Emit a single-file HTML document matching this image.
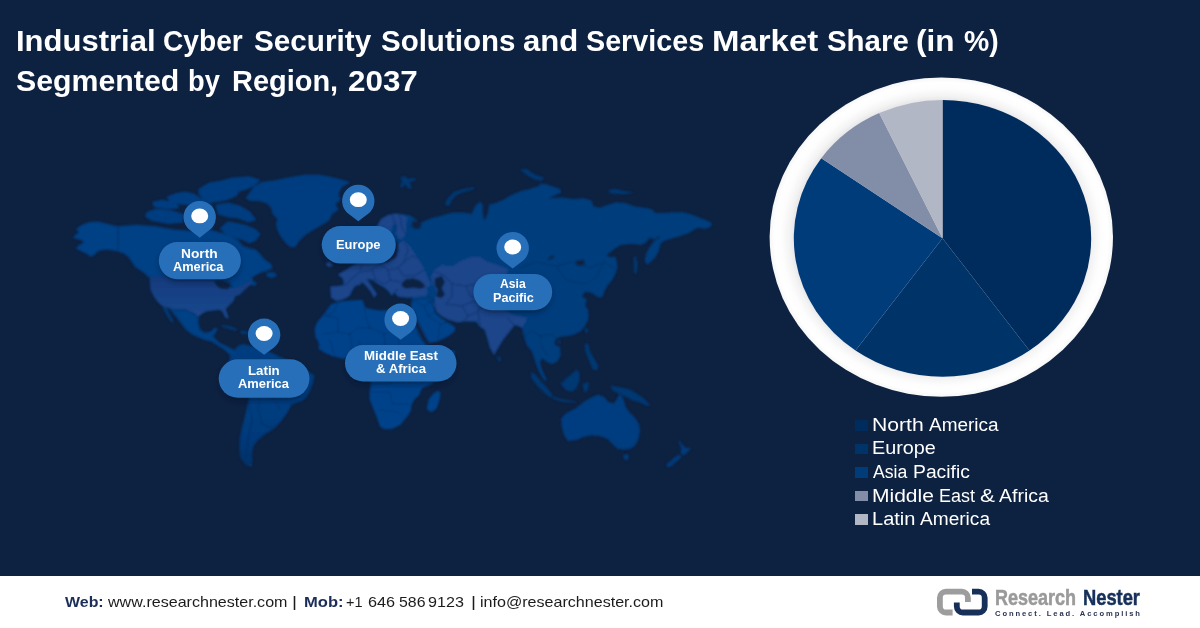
<!DOCTYPE html>
<html lang="en"><head><meta charset="utf-8"><title>Industrial Cyber Security Solutions and Services Market Share</title>
<style>
html,body{margin:0;padding:0;}
body{width:1200px;height:628px;overflow:hidden;background:#0d2140;font-family:"Liberation Sans",sans-serif;position:relative;}
#stage{position:absolute;left:0;top:0;width:1200px;height:628px;overflow:hidden;background:#0d2140;}
h1{position:absolute;left:0;top:0;margin:0;width:1200px;height:110px;font:bold 28.6px "Liberation Sans",sans-serif;color:#fff;white-space:nowrap;}
.tw{position:absolute;display:inline-block;transform-origin:0 50%;line-height:normal;white-space:nowrap;}
svg#art{position:absolute;left:0;top:0;}
.lbl{font:bold 12.3px "Liberation Sans",sans-serif;fill:#fff;text-anchor:middle;letter-spacing:0.2px;}
.sw{position:absolute;left:854.9px;width:13.1px;height:10.6px;}
.lgrow{position:absolute;left:0;top:0;font:17.6px "Liberation Sans",sans-serif;color:#fff;}
.pw{font:bold 12.3px "Liberation Sans",sans-serif;color:#fff;}
.lw,.fw,.fb,.pw{position:absolute;display:inline-block;transform-origin:0 50%;line-height:normal;white-space:nowrap;}
#footer{position:absolute;left:0;top:575.8px;width:1200px;height:52.2px;background:#fff;}
#contact{position:absolute;left:0;top:0;font:15px "Liberation Sans",sans-serif;color:#1c1c1c;}
.fb{font-weight:bold;color:#1b2e58;}
#logo{position:absolute;left:937px;top:12.7px;width:210px;height:32px;}
</style></head>
<body><div id="stage">
<svg id="art" width="1200" height="628" viewBox="0 0 1200 628">
<defs>
<filter id="blur3" x="-20%" y="-40%" width="140%" height="200%"><feGaussianBlur stdDeviation="2.5"/></filter>
<filter id="blur6" x="-20%" y="-20%" width="140%" height="140%"><feGaussianBlur stdDeviation="4"/></filter>
<radialGradient id="ring" cx="0.5" cy="0.5" r="0.5"><stop offset="0.85" stop-color="#e4e4e6"/><stop offset="0.885" stop-color="#f3f3f4"/><stop offset="0.93" stop-color="#fdfdfd"/><stop offset="0.97" stop-color="#ffffff"/><stop offset="1" stop-color="#f6f6f7"/></radialGradient>
</defs>
<defs><linearGradient id="fadeg" gradientUnits="userSpaceOnUse" x1="0" y1="440" x2="0" y2="480"><stop offset="0" stop-color="#fff" stop-opacity="1"/><stop offset="1" stop-color="#fff" stop-opacity="0.82"/></linearGradient><linearGradient id="sag" gradientUnits="userSpaceOnUse" x1="0" y1="405" x2="0" y2="468"><stop offset="0" stop-color="#023e80"/><stop offset="0.5" stop-color="#04397a"/><stop offset="1" stop-color="#07346c"/></linearGradient><mask id="fade" maskUnits="userSpaceOnUse" x="0" y="0" width="1200" height="628"><rect x="0" y="0" width="1200" height="628" fill="url(#fadeg)"/></mask><linearGradient id="usag" gradientUnits="userSpaceOnUse" x1="0" y1="276" x2="0" y2="318"><stop offset="0" stop-color="#12397a"/><stop offset="0.4" stop-color="#174184"/><stop offset="1" stop-color="#1b478d"/></linearGradient><filter id="soft" x="-5%" y="-5%" width="110%" height="110%"><feGaussianBlur stdDeviation="1.25"/></filter></defs>
<g mask="url(#fade)"><g filter="url(#soft)">
<path d="M163.4,307.3 L165.8,308.1 L169.8,315.3 L173.0,321.7 L171.4,321.7 L167.4,315.3 L164.2,309.7Z M267.0,273.0 L274.0,272.5 L277.0,275.5 L272.0,277.5 L267.0,276.5Z M199.0,189.0 L209.0,183.0 L221.0,181.0 L232.0,178.0 L249.0,176.7 L260.0,180.0 L254.6,185.6 L246.8,189.0 L239.0,191.2 L236.8,195.6 L229.0,199.0 L221.0,201.0 L210.0,202.5 L203.0,199.0 L199.0,194.0Z M167.0,197.0 L176.0,193.5 L185.0,192.0 L194.0,194.0 L200.0,198.0 L207.0,202.0 L213.0,206.0 L210.0,210.0 L200.0,208.0 L190.0,205.0 L180.0,204.0 L170.0,202.0Z M152.3,202.3 L162.3,200.1 L176.8,203.4 L179.0,207.9 L167.9,209.0 L154.5,206.8Z M146.7,212.4 L156.7,209.0 L173.4,211.2 L183.5,214.6 L182.4,222.4 L167.9,223.5 L151.1,220.2 L145.6,216.8Z M216.0,205.0 L228.0,203.0 L240.0,206.0 L250.0,212.0 L256.0,220.0 L248.0,222.0 L238.0,218.0 L228.0,217.0 L218.0,214.0Z M227.9,221.7 L244.6,225.0 L255.7,229.5 L260.2,234.0 L255.7,240.6 L249.0,242.9 L242.4,239.5 L233.4,237.3 L225.6,234.0 L220.0,228.4Z M186.0,217.0 L196.0,215.0 L206.0,217.0 L214.0,221.0 L212.0,227.0 L200.0,227.0 L188.0,225.0Z M222.0,236.0 L230.0,238.0 L236.0,243.0 L230.0,245.0 L223.0,242.0Z M245.9,198.2 L253.9,187.1 L261.9,182.3 L274.6,180.7 L290.5,177.5 L304.9,175.1 L319.2,175.1 L331.9,177.5 L344.7,180.7 L349.4,182.3 L341.5,187.1 L338.3,193.4 L339.9,199.8 L335.1,204.6 L338.3,209.4 L331.9,214.1 L328.7,220.5 L320.8,225.3 L312.8,230.1 L304.9,234.9 L298.5,241.2 L295.3,246.8 L290.5,246.8 L285.7,242.8 L281.0,236.4 L277.8,230.1 L276.2,223.7 L277.8,218.9 L273.0,214.1 L271.4,207.8 L266.6,203.0 L258.7,200.6 L250.7,200.6Z M561.6,418.2 L566.4,413.4 L575.9,408.7 L583.9,402.3 L591.9,397.5 L598.2,395.1 L604.6,397.5 L607.8,402.3 L614.1,403.9 L617.3,399.1 L619.7,394.3 L622.9,399.1 L625.3,407.1 L630.1,413.4 L634.9,418.2 L638.8,424.6 L639.6,431.0 L638.0,438.9 L634.9,445.3 L630.1,448.5 L623.7,449.3 L617.3,448.5 L612.6,443.7 L607.8,438.9 L604.6,437.3 L599.8,435.7 L591.9,434.9 L583.9,436.5 L575.9,439.7 L568.0,440.5 L564.8,435.7 L562.4,427.8Z M623.7,454.9 L628.5,454.9 L627.7,459.6 L624.5,459.6Z M678.6,440.5 L681.0,443.7 L685.8,448.5 L690.6,448.5 L687.4,451.7 L684.2,454.9 L681.0,453.3 L681.8,448.5Z M679.4,454.9 L681.0,457.2 L676.3,461.2 L671.5,466.0 L667.5,466.8 L666.7,464.4 L671.5,460.4 L676.3,456.4Z" fill="#023e80" stroke="#023e80" stroke-width="0.8" stroke-linejoin="round"/>
<path d="M317.4,321.8 L324.1,314.1 L330.8,304.6 L338.5,301.7 L348.0,300.7 L362.4,299.8 L364.3,304.6 L366.5,308.0 L372.0,309.2 L380.0,310.5 L388.0,310.0 L394.0,309.5 L400.0,310.0 L411.5,310.5 L413.4,322.0 L418.0,332.0 L423.0,341.0 L430.0,350.0 L440.0,353.0 L449.0,351.5 L455.0,350.5 L454.0,357.0 L449.0,366.0 L442.0,376.0 L432.0,384.0 L423.0,388.0 L421.2,389.6 L419.3,395.3 L414.5,399.1 L411.6,404.9 L410.7,411.5 L405.9,418.2 L400.2,424.9 L392.5,428.8 L384.9,429.2 L380.1,426.8 L377.2,418.2 L373.4,408.7 L369.6,399.1 L369.6,392.4 L371.0,384.0 L368.0,374.0 L364.0,364.0 L358.0,361.0 L352.0,360.0 L344.6,359.1 L331.9,355.9 L324.1,352.4 L318.4,348.5 L319.3,343.8 L315.5,337.1 L314.6,328.5Z" fill="#03428a"/>
<path d="M411.2,302.3 L416.8,300.1 L426.8,300.1 L432.4,304.5 L435.7,313.4 L442.4,319.0 L451.3,324.6 L455.8,327.9 L453.6,332.4 L446.9,336.9 L438.0,341.3 L426.8,343.5 L424.6,340.2 L419.0,330.2 L414.6,324.6 L413.4,319.0 L411.2,311.2Z" fill="#03428a"/>
<path d="M426.9,407.7 L428.8,399.1 L433.6,393.4 L438.4,390.5 L440.5,393.0 L439.5,400.0 L436.5,408.7 L431.7,412.0 L427.9,410.6Z" fill="#03428a"/>
<path d="M75.9,229.5 L80.7,225.5 L88.7,222.3 L98.2,221.5 L107.8,223.9 L117.3,226.3 L126.9,225.5 L136.4,224.7 L146.0,225.5 L155.6,226.3 L165.1,227.9 L174.7,229.5 L184.2,230.3 L192.0,231.0 L200.0,230.0 L208.0,229.0 L215.0,231.0 L222.0,233.0 L230.0,236.0 L238.0,240.0 L243.0,246.0 L249.0,248.0 L255.7,249.6 L260.2,254.0 L264.7,259.6 L271.3,264.0 L272.5,268.5 L266.9,270.7 L260.2,273.0 L255.7,275.2 L252.0,278.0 L253.0,281.0 L257.0,283.0 L255.0,286.0 L251.0,285.0 L251.0,284.2 L244.7,289.8 L239.9,294.6 L235.1,296.2 L233.5,301.0 L228.7,305.7 L225.6,308.9 L227.1,313.7 L228.7,318.5 L225.6,317.7 L222.4,311.3 L219.2,309.7 L212.8,310.5 L206.4,311.3 L201.7,313.7 L198.5,316.9 L198.5,323.3 L200.1,329.6 L204.9,332.8 L211.2,331.2 L214.4,328.0 L217.6,328.0 L216.0,332.8 L212.8,336.0 L216.0,339.2 L219.2,342.4 L225.6,345.6 L231.9,348.7 L236.0,351.0 L234.0,354.0 L231.0,356.0 L228.0,353.0 L224.0,349.5 L217.6,345.6 L211.2,341.6 L204.9,340.0 L198.5,337.6 L192.1,334.4 L185.7,329.6 L181.0,323.3 L176.2,316.9 L169.8,308.9 L161.9,305.7 L157.1,301.0 L153.9,296.2 L150.7,289.8 L149.9,281.9 L149.9,277.1 L149.2,278.0 L144.4,273.3 L139.6,270.1 L134.9,266.9 L132.5,262.9 L128.5,257.3 L123.7,253.4 L115.7,251.0 L107.8,249.7 L101.4,250.2 L97.4,251.8 L93.4,255.7 L89.5,256.5 L87.1,254.1 L80.7,251.0 L75.9,248.6 L77.5,246.2 L83.9,242.2 L80.7,239.8 L73.5,238.2 L74.3,235.8 L79.1,232.6Z" fill="#024084"/>
<path d="M377.0,226.0 L381.0,219.0 L388.0,215.0 L395.0,213.5 L400.0,214.1 L409.6,214.9 L417.5,220.5 L409.6,226.9 L422.3,222.1 L431.9,218.1 L441.4,215.7 L452.6,212.6 L463.7,212.6 L471.7,214.1 L474.9,206.2 L479.6,201.4 L482.8,204.6 L482.8,212.6 L484.4,220.5 L487.6,214.1 L489.2,204.6 L495.6,203.0 L503.5,199.8 L511.5,195.0 L521.0,191.1 L530.6,188.7 L540.0,185.5 L539.1,183.9 L545.5,183.9 L551.9,186.3 L559.8,188.7 L561.4,192.6 L548.7,198.2 L561.4,197.4 L574.1,199.0 L583.7,198.2 L591.7,200.6 L593.3,206.2 L599.6,207.8 L609.2,204.6 L615.6,202.2 L625.1,203.0 L634.7,206.2 L644.2,207.8 L651.0,209.1 L655.7,213.1 L663.7,213.1 L671.7,212.3 L682.8,212.3 L692.4,214.7 L700.3,217.9 L708.3,221.1 L712.3,223.4 L709.9,227.4 L703.5,229.0 L698.7,227.4 L694.0,229.8 L689.2,233.0 L679.6,236.2 L671.7,238.6 L663.7,241.0 L660.5,244.1 L658.9,250.5 L655.7,256.9 L651.0,261.7 L647.0,264.9 L644.6,260.1 L646.2,253.7 L649.4,247.3 L654.1,241.0 L658.9,237.8 L660.5,235.4 L654.1,239.4 L649.4,237.8 L646.2,242.6 L641.4,244.9 L631.9,244.1 L620.7,244.9 L614.3,248.9 L606.4,255.3 L609.6,256.9 L615.9,256.9 L617.5,266.4 L615.9,272.8 L612.7,279.2 L608.0,285.6 L614.0,259.6 L617.1,269.1 L612.4,277.1 L607.6,285.0 L604.4,291.7 L602.8,296.2 L599.6,297.8 L596.4,296.2 L591.7,293.0 L585.3,291.4 L582.1,296.2 L586.9,299.4 L585.3,305.7 L587.8,309.1 L588.8,314.9 L587.8,320.6 L584.9,326.3 L581.1,331.1 L575.4,334.0 L568.7,335.9 L561.0,336.8 L556.3,338.8 L554.3,342.6 L555.3,345.0 L560.0,347.0 L560.7,355.0 L557.3,361.7 L552.0,364.3 L546.7,361.7 L542.0,358.3 L540.0,362.0 L541.5,368.0 L544.0,374.0 L546.5,379.0 L545.0,381.5 L542.0,377.0 L538.5,370.0 L536.0,364.0 L535.3,361.7 L532.0,351.7 L526.7,345.0 L524.0,337.0 L522.0,328.0 L519.4,326.4 L514.7,324.9 L509.9,331.2 L503.5,339.2 L498.7,347.1 L494.0,355.0 L490.0,348.0 L487.6,339.2 L484.4,329.6 L479.6,326.4 L476.4,321.7 L470.0,321.5 L464.7,321.2 L458.0,322.4 L449.1,320.1 L442.4,316.8 L436.9,312.3 L433.0,305.0 L425.0,300.0 L416.0,301.0 L411.5,304.0 L412.0,297.5 L407.9,297.8 L397.8,296.7 L394.5,292.3 L398.0,289.5 L396.0,290.0 L392.0,296.0 L389.0,292.0 L385.0,288.0 L378.0,284.0 L372.0,280.0 L367.0,279.0 L372.0,286.6 L377.0,294.0 L374.0,298.0 L371.0,292.0 L366.0,286.0 L362.0,282.0 L360.0,285.0 L355.7,285.7 L352.6,289.8 L349.4,296.2 L343.0,299.4 L336.6,301.0 L331.1,297.8 L330.3,286.6 L338.0,286.0 L344.0,285.0 L343.0,279.0 L337.9,274.6 L344.0,271.0 L349.0,267.9 L353.0,265.0 L358.0,263.0 L365.0,262.0 L372.0,262.0 L380.0,263.0 L388.0,262.0 L395.0,258.0 L397.0,250.0 L398.0,244.0 L393.0,240.0 L391.0,236.0 L388.0,242.0 L384.0,244.0 L381.0,240.0 L378.0,234.0Z" fill="#013d7d"/>
<path d="M234.6,350.3 L238.0,346.0 L242.6,343.9 L248.9,345.5 L256.0,347.0 L264.0,350.0 L272.0,353.0 L279.2,356.6 L291.9,361.4 L300.0,366.0 L307.9,371.0 L314.2,375.7 L313.0,383.0 L310.0,391.0 L306.2,397.4 L301.5,401.0 L291.9,404.6 L287.1,412.9 L281.2,421.3 L272.8,429.6 L264.4,434.4 L257.5,440.4 L253.5,446.4 L252.0,452.3 L252.5,459.5 L252.0,464.3 L252.5,466.7 L246.5,465.5 L240.5,458.3 L239.3,448.0 L239.8,437.4 L241.7,428.5 L244.1,419.5 L246.5,409.3 L248.9,398.6 L244.0,390.0 L238.0,381.0 L232.0,372.0 L228.0,364.0 L230.0,357.0Z" fill="url(#sag)"/>
<path d="M530.3,372.6 L535.0,374.1 L541.4,382.1 L547.8,388.5 L552.6,394.9 L551.0,398.0 L544.6,393.3 L538.2,386.9 L531.9,378.9Z" fill="#053872"/>
<path d="M552.6,396.4 L563.7,399.6 L574.9,401.2 L576.4,402.8 L563.7,402.0 L552.6,398.8Z" fill="#053872"/>
<path d="M560.5,383.7 L565.3,378.9 L571.7,374.1 L576.4,369.4 L579.6,372.6 L579.6,380.5 L576.4,388.5 L571.7,391.7 L565.3,390.1Z" fill="#053872"/>
<path d="M584.5,344.0 L588.5,344.0 L589.5,350.0 L592.0,355.0 L595.0,360.0 L598.0,365.0 L597.5,370.0 L593.0,370.0 L590.5,364.0 L588.0,358.0 L585.5,352.0Z" fill="#053872"/>
<path d="M582.8,383.7 L589.2,382.1 L587.6,390.1 L584.4,393.3Z" fill="#053872"/>
<path d="M610.0,386.0 L616.0,386.5 L623.7,388.0 L630.1,389.6 L638.0,394.3 L644.4,399.1 L650.8,405.5 L646.0,405.5 L639.6,402.3 L633.3,400.7 L626.9,397.5 L620.0,394.0 L613.0,391.0Z" fill="#053872"/>
<path d="M585.0,328.0 L588.0,328.5 L588.0,333.0 L585.5,333.0Z" fill="#053872"/>
<path d="M557.5,340.5 L560.5,340.5 L560.5,343.5 L557.5,343.5Z" fill="#053872"/>
<path d="M497.5,356.0 L500.5,357.0 L500.5,361.5 L498.0,361.0Z" fill="#053872"/>
<path d="M222.0,325.0 L230.0,326.0 L237.0,329.0 L236.0,331.0 L229.0,329.0 L222.0,327.0Z" fill="#053872"/>
<path d="M240.0,331.0 L247.0,331.0 L248.0,334.0 L241.0,334.0Z" fill="#053872"/>
<path d="M400.0,177.5 L404.8,175.9 L408.0,179.1 L415.1,177.8 L415.9,179.9 L409.6,182.3 L411.9,187.9 L408.0,188.7 L405.6,183.9 L401.6,187.9 L400.0,185.5 L402.4,181.5Z" fill="#053872"/>
<path d="M444.6,204.6 L447.8,198.2 L454.1,191.9 L463.7,188.7 L474.9,187.1 L473.3,189.5 L463.7,191.9 L455.7,195.8 L451.0,201.4 L449.4,206.2Z" fill="#053872"/>
<path d="M520.0,169.6 L526.4,168.8 L534.3,174.3 L543.9,177.5 L542.3,180.7 L535.9,179.9 L528.0,175.9Z" fill="#053872"/>
<path d="M607.6,190.3 L615.6,188.7 L623.5,191.1 L634.7,192.6 L623.5,194.2 L610.8,193.4Z" fill="#053872"/>
<path d="M633.8,256.9 L636.0,256.1 L637.7,264.9 L636.2,274.4 L634.1,272.8Z" fill="#053872"/>
<path d="M149.9,276.8 L180.0,277.2 L212.8,277.9 L216.0,281.9 L219.2,288.2 L227.1,289.0 L235.1,288.2 L241.5,285.8 L247.9,281.9 L252.6,278.7 L251.0,284.2 L244.7,289.8 L239.9,294.6 L235.1,296.2 L233.5,301.0 L228.7,305.7 L225.6,308.9 L227.1,313.7 L228.7,318.5 L225.6,317.7 L222.4,311.3 L219.2,309.7 L212.8,310.5 L206.4,311.3 L201.7,313.7 L198.5,316.9 L193.7,312.9 L188.9,311.3 L184.1,308.9 L177.8,309.7 L169.8,308.9 L161.9,305.7 L157.1,301.0 L153.9,296.2 L150.7,289.8 L149.9,281.9Z" fill="url(#usag)"/>
<path d="M377.0,226.0 L381.0,219.0 L388.0,215.0 L395.0,213.5 L402.0,214.5 L407.0,217.0 L406.5,225.0 L406.0,232.0 L404.0,238.0 L399.0,239.0 L396.0,234.0 L397.0,226.0 L394.0,223.0 L392.0,228.0 L391.0,236.0 L388.0,242.0 L384.0,244.0 L381.0,240.0 L378.0,234.0Z" fill="#1a458a"/>
<path d="M337.9,274.6 L344.0,271.0 L349.0,267.9 L353.0,265.0 L358.0,263.0 L365.0,262.0 L372.0,262.0 L380.0,263.0 L388.0,262.0 L395.0,258.0 L397.0,250.0 L398.0,244.0 L404.0,240.0 L410.0,246.0 L418.0,258.0 L424.0,268.0 L428.0,278.0 L431.0,284.0 L434.0,286.0 L437.0,292.0 L434.6,299.0 L433.5,305.6 L436.9,312.3 L442.4,316.8 L449.1,320.1 L458.0,322.4 L464.7,321.2 L470.0,321.5 L476.4,321.7 L479.6,326.4 L484.4,329.6 L487.6,339.2 L490.0,348.0 L494.0,355.0 L498.7,347.1 L503.5,339.2 L509.9,331.2 L514.7,324.9 L519.4,326.4 L522.0,328.0 L526.0,322.0 L527.0,317.0 L520.0,316.0 L512.0,314.0 L504.0,309.0 L497.0,302.0 L495.0,294.0 L499.0,286.0 L505.0,279.0 L508.3,269.1 L495.6,264.3 L486.0,261.1 L479.6,256.4 L470.1,257.2 L460.5,261.1 L452.6,265.9 L441.4,265.1 L433.4,270.7 L431.0,277.0 L433.0,284.0 L430.0,286.0 L426.8,288.0 L427.9,292.3 L426.8,295.6 L419.0,296.7 L407.9,297.8 L397.8,296.7 L394.5,292.3 L398.0,289.5 L396.0,290.0 L392.0,296.0 L389.0,292.0 L385.0,288.0 L378.0,284.0 L372.0,280.0 L367.0,279.0 L372.0,286.6 L377.0,294.0 L374.0,298.0 L371.0,292.0 L366.0,286.0 L362.0,282.0 L360.0,285.0 L355.7,285.7 L352.6,289.8 L349.4,296.2 L343.0,299.4 L336.6,301.0 L331.1,297.8 L330.3,286.6 L338.0,286.0 L344.0,285.0 L343.0,279.0Z" fill="#1a458a"/>
<path d="M327.0,262.0 L331.0,262.5 L333.0,266.0 L329.0,267.0 L326.0,265.0Z" fill="#1a458a"/>
<path d="M402.0,283.0 L406.0,279.5 L413.0,278.8 L419.0,280.5 L423.0,283.5 L425.0,287.0 L420.0,288.3 L413.0,287.4 L406.0,288.2 L402.5,286.5Z M435.0,278.7 L441.4,276.3 L444.6,281.9 L441.4,288.2 L444.6,294.6 L441.4,297.8 L436.6,296.2 L438.2,289.8 L435.0,285.0Z M575.7,261.1 L583.7,259.9 L584.5,264.3 L577.3,265.9Z M547.9,258.8 L552.6,255.6 L554.2,256.7 L549.5,259.9Z M412.0,311.0 L414.5,311.5 L417.0,320.0 L421.0,328.0 L425.5,337.0 L431.0,346.0 L436.0,351.0 L433.0,351.5 L428.0,346.0 L422.0,338.0 L417.5,329.0 L414.0,320.0Z M214.4,281.1 L220.8,280.3 L228.7,282.6 L231.9,285.8 L227.1,289.0 L220.8,288.2 L216.8,285.8Z M394.0,240.0 L397.5,242.0 L398.0,250.0 L396.0,257.0 L393.5,259.0 L394.5,250.0Z M411.9,221.1 L421.5,222.6 L419.9,228.2 L413.5,228.2Z" fill="#0d2140" stroke="#0d2140" stroke-width="0.6" stroke-linejoin="round"/>
<path d="M338.0,302.0 L334.0,312.0 L325.0,316.0 M364.5,305.0 L366.0,318.0 L370.0,328.0 M325.0,316.0 L338.0,318.0 L338.0,332.0 L324.0,334.0 M338.0,332.0 L350.0,334.0 L358.0,328.0 L370.0,328.0 M396.0,313.0 L396.0,330.0 M370.0,328.0 L384.0,334.0 L396.0,330.0 L412.0,330.0 M350.0,334.0 L352.0,348.0 L346.0,358.0 M358.0,340.0 L364.0,352.0 L362.0,360.0 M384.0,334.0 L386.0,350.0 L378.0,356.0 M330.0,340.0 L334.0,354.0 M396.0,330.0 L400.0,346.0 L412.0,352.0 M412.0,330.0 L424.0,342.0 M372.0,392.0 L390.0,392.0 L392.0,404.0 L408.0,404.0 M380.0,410.0 L398.0,412.0 L404.0,418.0 M386.0,350.0 L400.0,352.0 L410.0,360.0 L420.0,372.0 M371.0,384.0 L388.0,384.0 L400.0,376.0 L410.0,360.0 M346.0,285.0 L352.0,278.0 L360.0,272.0 M360.0,272.0 L362.0,264.0 M362.0,272.0 L372.0,270.0 L380.0,264.0 M372.0,270.0 L376.0,280.0 L368.0,280.0 M380.0,264.0 L388.0,270.0 L398.0,268.0 L404.0,262.0 M388.0,270.0 L390.0,280.0 L400.0,282.0 M376.0,280.0 L384.0,284.0 L390.0,280.0 M398.0,268.0 L404.0,276.0 L414.0,276.0 M404.0,262.0 L412.0,256.0 L418.0,258.0 M404.0,240.0 L408.0,250.0 L404.0,262.0 M414.0,276.0 L424.0,270.0 M392.0,214.0 L396.0,226.0 M400.0,215.0 L402.0,228.0 L406.0,234.0 M433.0,271.0 L445.0,276.0 L452.0,284.0 L466.0,286.0 L478.0,284.0 M452.0,284.0 L452.0,296.0 L446.0,304.0 M466.0,286.0 L470.0,296.0 L484.0,300.0 M478.0,284.0 L488.0,282.0 L496.0,286.0 M446.0,304.0 L462.0,306.0 L468.0,316.0 L464.0,321.0 M462.0,306.0 L472.0,302.0 L484.0,300.0 L494.0,302.0 M468.0,316.0 L478.0,312.0 L484.0,300.0 M478.0,312.0 L480.0,326.0 M427.0,296.0 L434.0,300.0 L436.0,312.0 M416.0,302.0 L424.0,306.0 L434.0,300.0 M424.0,306.0 L428.0,316.0 L436.0,312.0 M428.0,316.0 L440.0,324.0 L450.0,322.0 M440.0,324.0 L438.0,340.0 M508.0,318.0 L514.0,325.0 M118.0,224.5 L118.0,251.0 M200.0,317.0 L186.0,309.5 L176.0,309.8 L166.0,307.0 M246.0,360.0 L258.0,364.0 L262.0,372.0 M262.0,372.0 L274.0,370.0 L282.0,360.0 M236.0,372.0 L248.0,376.0 L262.0,372.0 M248.0,376.0 L252.0,390.0 L262.0,394.0 M262.0,394.0 L274.0,398.0 L280.0,410.0 M262.0,394.0 L258.0,408.0 L262.0,424.0 M248.0,398.0 L252.0,420.0 L248.0,440.0 L246.0,458.0 M262.0,424.0 L272.0,428.0 M520.0,268.0 L536.0,262.0 L556.0,266.0 L572.0,262.0 L590.0,268.0 L604.0,262.0 L614.0,268.0 M556.0,266.0 L566.0,280.0 L584.0,284.0 L596.0,278.0 L604.0,262.0 M524.0,337.0 L532.0,330.0 L540.0,336.0 L552.0,334.0 L556.0,339.0 M540.0,336.0 L542.0,348.0 L548.0,356.0" fill="none" stroke="#0a2550" stroke-opacity="0.5" stroke-width="1" stroke-linejoin="round" stroke-linecap="round"/>
</g></g>
<ellipse cx="941.3" cy="237.1" rx="171.7" ry="159.6" fill="url(#ring)"/>
<path d="M942.50,238.30 L942.50,99.90 A148.7,138.4 0 0 1 1029.48,350.55 Z" fill="#002b5d"/>
<path d="M942.50,238.30 L1029.48,350.55 A148.7,138.4 0 0 1 855.52,350.55 Z" fill="#003468"/>
<path d="M942.50,238.30 L855.52,350.55 A148.7,138.4 0 0 1 821.29,158.13 Z" fill="#003c7a"/>
<path d="M942.50,238.30 L821.29,158.13 A148.7,138.4 0 0 1 879.19,113.07 Z" fill="#828da8"/>
<path d="M942.50,238.30 L879.19,113.07 A148.7,138.4 0 0 1 942.50,99.90 Z" fill="#b2b7c6"/>
<rect x="159.8" y="245.1" width="80.1" height="37.1" rx="18.5" fill="#06152e" opacity="0.5" filter="url(#blur3)"/>
<rect x="158.8" y="242.1" width="82.1" height="37.1" rx="18.5" fill="#2770b9"/>
<path d="M199.70,237.80 L189.62,229.78 A16.20,16.20 0 1 1 209.78,229.78 Z" fill="#2770b9"/><ellipse cx="199.70" cy="215.90" rx="8.5" ry="7.4" fill="#fff"/>
<rect x="322.7" y="229.1" width="72.1" height="37.5" rx="18.8" fill="#06152e" opacity="0.5" filter="url(#blur3)"/>
<rect x="321.7" y="226.1" width="74.1" height="37.5" rx="18.8" fill="#2770b9"/>
<path d="M358.30,221.30 L348.45,213.76 A16.20,16.20 0 1 1 368.15,213.76 Z" fill="#2770b9"/><ellipse cx="358.30" cy="199.70" rx="8.5" ry="7.4" fill="#fff"/>
<rect x="474.4" y="276.9" width="76.8" height="36.3" rx="18.2" fill="#06152e" opacity="0.5" filter="url(#blur3)"/>
<rect x="473.4" y="273.9" width="78.8" height="36.3" rx="18.2" fill="#2770b9"/>
<path d="M512.70,268.60 L502.85,261.06 A16.20,16.20 0 1 1 522.55,261.06 Z" fill="#2770b9"/><ellipse cx="512.70" cy="247.00" rx="8.5" ry="7.4" fill="#fff"/>
<rect x="219.7" y="362.3" width="88.8" height="38.5" rx="19.2" fill="#06152e" opacity="0.5" filter="url(#blur3)"/>
<rect x="218.7" y="359.3" width="90.8" height="38.5" rx="19.2" fill="#2770b9"/>
<path d="M264.10,354.80 L254.51,347.76 A16.20,16.20 0 1 1 273.69,347.76 Z" fill="#2770b9"/><ellipse cx="264.10" cy="333.50" rx="8.5" ry="7.4" fill="#fff"/>
<rect x="346.0" y="348.0" width="109.5" height="36.5" rx="18.2" fill="#06152e" opacity="0.5" filter="url(#blur3)"/>
<rect x="345.0" y="345.0" width="111.5" height="36.5" rx="18.2" fill="#2770b9"/>
<path d="M400.60,339.70 L391.10,332.82 A16.20,16.20 0 1 1 410.10,332.82 Z" fill="#2770b9"/><ellipse cx="400.60" cy="318.50" rx="8.5" ry="7.4" fill="#fff"/>

</svg>
<div id="pilltext"><span class="pw" style="left:180.86px;top:246.65px;transform:scaleX(1.1200);">North</span> <span class="pw" style="left:173.49px;top:260.00px;transform:scaleX(1.0402);">America</span> <span class="pw" style="left:336.31px;top:238.00px;transform:scaleX(1.0497);">Europe</span> <span class="pw" style="left:499.85px;top:277.45px;transform:scaleX(0.9864);">Asia</span> <span class="pw" style="left:493.03px;top:290.55px;transform:scaleX(1.0286);">Pacific</span> <span class="pw" style="left:248.19px;top:363.65px;transform:scaleX(1.0786);">Latin</span> <span class="pw" style="left:238.14px;top:376.75px;transform:scaleX(1.0495);">America</span> <span class="pw" style="left:363.69px;top:348.75px;transform:scaleX(1.0815);">Middle East</span> <span class="pw" style="left:375.96px;top:361.75px;transform:scaleX(1.0703);">&amp; Africa</span></div>
<h1><span class="tw" style="left:15.60px;top:25.00px;transform:scaleX(1.0840);">Industrial</span> <span class="tw" style="left:162.57px;top:25.00px;transform:scaleX(0.9836);">Cyber</span> <span class="tw" style="left:254.22px;top:25.00px;transform:scaleX(1.0384);">Security</span> <span class="tw" style="left:380.53px;top:25.00px;transform:scaleX(1.0311);">Solutions</span> <span class="tw" style="left:522.98px;top:25.00px;transform:scaleX(1.0881);">and</span> <span class="tw" style="left:585.55px;top:25.00px;transform:scaleX(1.0039);">Services</span> <span class="tw" style="left:711.78px;top:25.00px;transform:scaleX(1.1522);">Market</span> <span class="tw" style="left:826.73px;top:25.00px;transform:scaleX(1.0289);">Share</span> <span class="tw" style="left:915.85px;top:25.00px;transform:scaleX(1.1024);">(in</span> <span class="tw" style="left:964.26px;top:25.00px;transform:scaleX(0.9924);">%)</span>
<span class="tw" style="left:16.21px;top:65.00px;transform:scaleX(1.0594);">Segmented</span> <span class="tw" style="left:188.33px;top:65.00px;transform:scaleX(0.9524);">by</span> <span class="tw" style="left:232.03px;top:65.00px;transform:scaleX(1.0123);">Region,</span> <span class="tw" style="left:347.70px;top:65.00px;transform:scaleX(1.0976);">2037</span>
</h1>
<div class="sw" style="top:420.0px;background:#002b5d"></div><div class="lgrow"><span class="lw" style="left:872.10px;top:414.75px;transform:scaleX(1.2025);">North</span> <span class="lw" style="left:928.70px;top:414.75px;transform:scaleX(1.0791);">America</span></div>
<div class="sw" style="top:443.5px;background:#003468"></div><div class="lgrow"><span class="lw" style="left:871.91px;top:438.25px;transform:scaleX(1.1248);">Europe</span></div>
<div class="sw" style="top:467.2px;background:#003c7a"></div><div class="lgrow"><span class="lw" style="left:873.10px;top:461.95px;transform:scaleX(1.0015);">Asia</span> <span class="lw" style="left:913.15px;top:461.95px;transform:scaleX(1.0975);">Pacific</span></div>
<div class="sw" style="top:490.9px;background:#828da8"></div><div class="lgrow"><span class="lw" style="left:872.21px;top:485.60px;transform:scaleX(1.1939);">Middle</span> <span class="lw" style="left:938.57px;top:485.60px;transform:scaleX(1.0209);">East</span> <span class="lw" style="left:979.76px;top:485.60px;transform:scaleX(1.2727);">&amp;</span> <span class="lw" style="left:998.80px;top:485.60px;transform:scaleX(1.1067);">Africa</span></div>
<div class="sw" style="top:514.1px;background:#b2b7c6"></div><div class="lgrow"><span class="lw" style="left:872.29px;top:508.85px;transform:scaleX(1.1380);">Latin</span> <span class="lw" style="left:920.00px;top:508.85px;transform:scaleX(1.0853);">America</span></div>

<div id="footer">
<div id="contact"><span class="fb" style="left:65.30px;top:17.55px;transform:scaleX(1.0629);">Web:</span> <span class="fw" style="left:107.50px;top:17.55px;transform:scaleX(1.0709);">www.researchnester.com</span> <span class="fw" style="left:292.20px;top:17.55px;transform:scaleX(1.2800);">|</span> <span class="fb" style="left:303.60px;top:17.55px;transform:scaleX(1.1045);">Mob:</span> <span class="fw" style="left:346.28px;top:17.55px;transform:scaleX(0.9651);">+1</span> <span class="fw" style="left:367.79px;top:17.55px;transform:scaleX(1.0821);">646</span> <span class="fw" style="left:398.71px;top:17.55px;transform:scaleX(1.0568);">586</span> <span class="fw" style="left:428.49px;top:17.55px;transform:scaleX(1.0750);">9123</span> <span class="fw" style="left:470.60px;top:17.55px;transform:scaleX(1.2800);">|</span> <span class="fw" style="left:479.53px;top:17.55px;transform:scaleX(1.0718);">info@researchnester.com</span></div>
<svg id="logo" viewBox="0 0 210 32">
<path d="M15.6,24.5 H8.9 a6,6 0 0 1 -6,-6 V9.7 a6,6 0 0 1 6,-6 H24.9 a6,6 0 0 1 6,6 V13.9" fill="none" stroke="#9d9d9d" stroke-width="5.8"/>
<path d="M35,3.7 H41.7 a6,6 0 0 1 6,6 V18.5 a6,6 0 0 1 -6,6 H25.8 a6,6 0 0 1 -6,-6 V14.5" fill="none" stroke="#17305a" stroke-width="5.8"/>
<text x="58" y="17.0" font-family="Liberation Sans, sans-serif" font-weight="bold" font-size="21.5" fill="#9a9a9a" stroke="#9a9a9a" stroke-width="0.5" textLength="81" lengthAdjust="spacingAndGlyphs">Research</text>
<text x="146" y="17.0" font-family="Liberation Sans, sans-serif" font-weight="bold" font-size="21.5" fill="#17305a" stroke="#17305a" stroke-width="0.5" textLength="57" lengthAdjust="spacingAndGlyphs">Nester</text>
<text x="58" y="28.0" font-family="Liberation Sans, sans-serif" font-weight="bold" font-size="7.6" fill="#2a3450" textLength="145" lengthAdjust="spacing">Connect. Lead. Accomplish</text>
</svg>
</div>
</div></body></html>
